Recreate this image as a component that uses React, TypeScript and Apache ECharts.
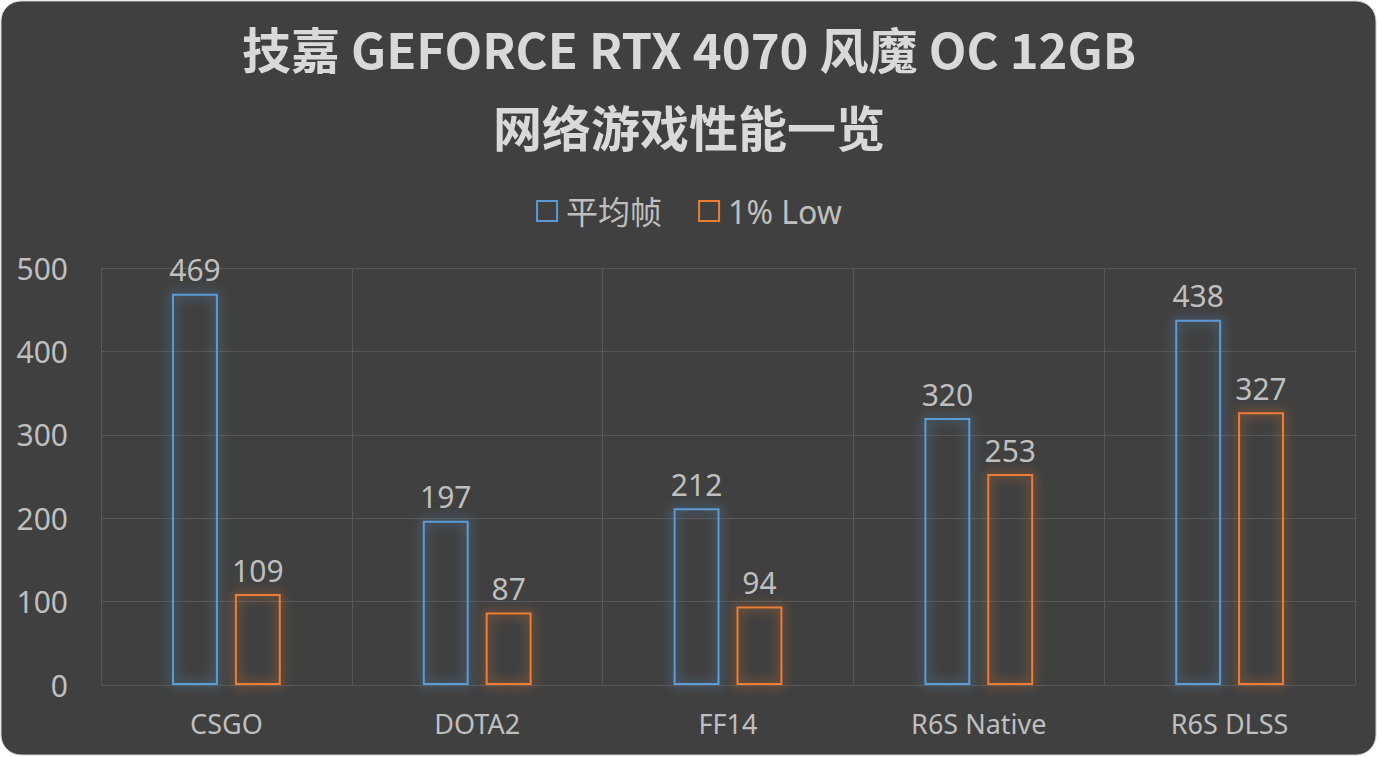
import React, { useEffect, useRef } from "react";
import * as echarts from "echarts";

const categories = ["CSGO", "DOTA2", "FF14", "R6S Native", "R6S DLSS"];
const avgFps = [469, 197, 212, 320, 438];
const lowFps = [109, 87, 94, 253, 327];
const seriesNames = ["平均帧", "1% Low"];
const titleLines = ["技嘉 GEFORCE RTX 4070 风魔 OC 12GB", "网络游戏性能一览"];

const FONT = "'Noto Sans', 'Noto Sans CJK SC', sans-serif";
const BLUE = "#5b9bd5";
const ORANGE = "#ed7d31";
const TXT = "#bfbfbf";

export default function App() {
  const ref = useRef<HTMLDivElement>(null);
  useEffect(() => {
    const chart = echarts.init(ref.current!, undefined, { renderer: "svg" });
    const mk = (name: string, data: number[], color: string) => ({
      name,
      type: "bar",
      data,
      barWidth: "18.3%",
      barGap: "37%",
      itemStyle: {
        color: "rgba(0,0,0,0)",
        borderColor: color,
        borderWidth: 2,
        shadowBlur: 12,
        shadowColor: color,
      },
      label: {
        show: true,
        position: "top",
        distance: 9,
        color: TXT,
        fontSize: 30,
        fontFamily: FONT,
      },
    });
    chart.setOption({
      animation: false,
      backgroundColor: "#ffffff",
      graphic: [
        {
          type: "rect",
          z: -10,
          shape: { x: 1, y: 1, width: 1375, height: 754, r: 20 },
          style: { fill: "#404040", stroke: "#d0d0d0", lineWidth: 1 },
        },
      ],
      title: {
        text: titleLines.join("\n"),
        left: "center",
        top: 3,
        textStyle: {
          color: "#d9d9d9",
          fontSize: 49,
          fontWeight: "bold",
          fontFamily: "'Noto Sans CJK SC', sans-serif",
          lineHeight: 78,
        },
      },
      legend: {
        data: seriesNames,
        top: 190,
        left: "center",
        icon: "rect",
        itemWidth: 20,
        itemHeight: 20,
        itemGap: 36,
        textStyle: { color: TXT, fontSize: 32, fontFamily: FONT, padding: [0, 0, 0, 4] },
      },
      grid: { left: 101, right: 23, top: 268, bottom: 72, containLabel: false, outerBoundsMode: "none" },
      xAxis: {
        type: "category",
        data: categories,
        axisLine: { show: false },
        axisTick: { show: false },
        splitLine: { show: true, lineStyle: { color: "#585858", width: 1 } },
        axisLabel: { color: TXT, fontSize: 27, fontFamily: FONT, margin: 25 },
      },
      yAxis: {
        type: "value",
        min: 0,
        max: 500,
        interval: 100,
        axisLine: { show: false },
        axisTick: { show: false },
        splitLine: { lineStyle: { color: "#585858", width: 1 } },
        axisLabel: { color: TXT, fontSize: 30, fontFamily: FONT, margin: 33 },
      },
      series: [mk(seriesNames[0], avgFps, BLUE), mk(seriesNames[1], lowFps, ORANGE)],
    });
    return () => chart.dispose();
  }, []);
  return (
    <div
      ref={ref}
      style={{ position: "absolute", left: 0, top: 0, width: 1378, height: 757 }}
    />
  );
}
